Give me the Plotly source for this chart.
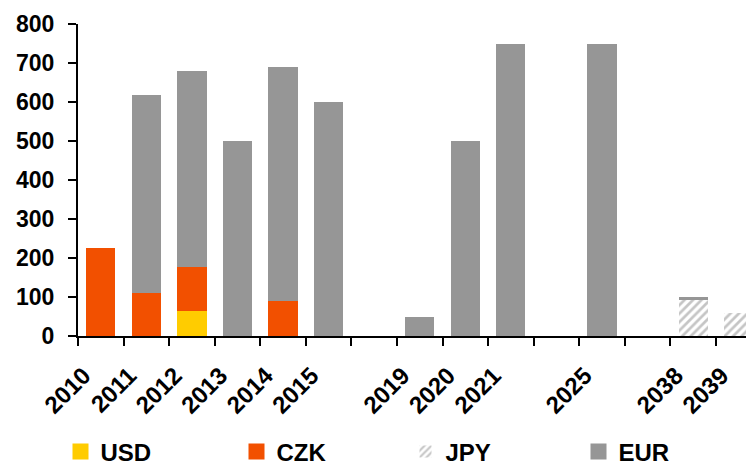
import plotly.graph_objects as go

categories = ["2010", "2011", "2012", "2013", "2014", "2015", " ", "2019", "2020",
              "2021", "  ", "2025", "   ", "2038", "2039"]
usd = [None, None, 65, None, None, None, None, None, None, None, None, None, None, None, None]
czk = [225, 110, 112, None, 90, None, None, None, None, None, None, None, None, None, None]
jpy = [None, None, None, None, None, None, None, None, None, None, None, None, None, 92, 60]
eur = [None, 507, 503, 500, 600, 600, None, 50, 500, 750, None, 750, None, 7, None]
y_ticks = [0, 100, 200, 300, 400, 500, 600, 700, 800]

COLORS = {"USD": "#FFCC00", "CZK": "#F25000", "EUR": "#969696"}
AXFONT = dict(family="Liberation Sans, Arial, sans-serif", size=23, color="black", weight="bold")
XFONT = dict(family="Liberation Sans, Arial, sans-serif", size=24, color="black", weight="bold")
LGFONT = dict(family="Liberation Sans, Arial, sans-serif", size=24, color="black", weight="bold")

fig = go.Figure()
fig.add_trace(go.Bar(name="USD", x=categories, y=usd, showlegend=False,
                     marker=dict(color=COLORS["USD"], line=dict(width=0))))
fig.add_trace(go.Bar(name="CZK", x=categories, y=czk, showlegend=False,
                     marker=dict(color=COLORS["CZK"], line=dict(width=0))))
fig.add_trace(go.Bar(name="JPY", x=categories, y=jpy, legend="legend3",
                     marker=dict(color="white", line=dict(width=0),
                                 pattern=dict(shape="/", fgcolor="#8c8c8c", bgcolor="white",
                                              size=6, solidity=0.45))))
fig.add_trace(go.Bar(name="EUR", x=categories, y=eur, showlegend=False,
                     marker=dict(color=COLORS["EUR"], line=dict(width=0))))

# legend entries with larger square swatches
for name, lg in (("USD", "legend"), ("CZK", "legend2"), ("EUR", "legend4")):
    fig.add_trace(go.Scatter(name=name, x=[None], y=[None], mode="markers", legend=lg,
                             marker=dict(symbol="square", size=16, color=COLORS[name],
                                         line=dict(width=0))))


def leg(xpx):
    return dict(orientation="h", xref="container", yref="container",
                x=xpx / 746, y=1 - 452 / 465, xanchor="left", yanchor="middle",
                font=LGFONT, bgcolor="rgba(0,0,0,0)", borderwidth=0)


fig.update_layout(
    width=746, height=465,
    barmode="stack", bargap=0.36,
    plot_bgcolor="white", paper_bgcolor="white",
    margin=dict(l=78, r=0, t=24, b=129, autoexpand=False),
    font=AXFONT,
    showlegend=True,
    legend=leg(60.5), legend2=leg(236.5), legend3=leg(405.5), legend4=leg(578.5),
    xaxis=dict(type="category", categoryorder="array", categoryarray=categories,
               range=[-0.5, 14.16], tickson="boundaries", ticks="outside", ticklen=8,
               tickwidth=2, tickcolor="black", showline=True, linecolor="black", linewidth=2,
               showgrid=False, tickangle=-45, tickfont=XFONT, automargin=False,
               ticklabelshift=-17, ticklabelstandoff=14),
    yaxis=dict(range=[0, 800], tickvals=y_ticks, ticks="outside", ticklen=8, tickwidth=2,
               tickcolor="black", showline=True, linecolor="black", linewidth=2,
               showgrid=False, zeroline=False, tickfont=AXFONT, ticklabelstandoff=9,
               automargin=False),
)

fig.write_html("out.html", config={"displayModeBar": False},
               post_script="document.body.style.margin='0';")
